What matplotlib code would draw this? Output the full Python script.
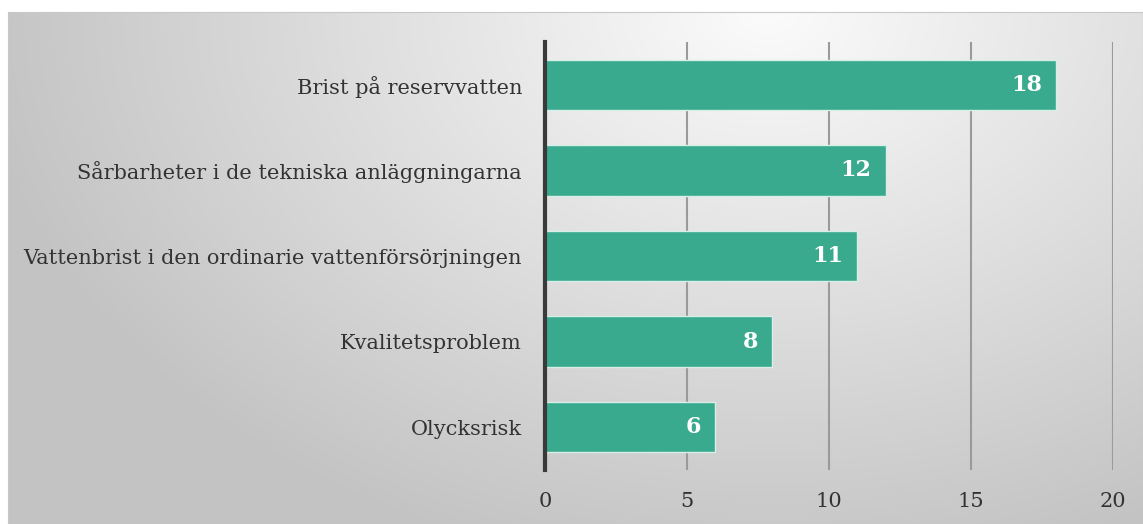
import numpy as np
import matplotlib
matplotlib.use("Agg")
import matplotlib.pyplot as plt

categories = ["Brist på reservvatten",
              "Sårbarheter i de tekniska anläggningarna",
              "Vattenbrist i den ordinarie vattenförsörjningen",
              "Kvalitetsproblem",
              "Olycksrisk"]
values = [18, 12, 11, 8, 6]
xticks = [0, 5, 10, 15, 20]

W, H = 1143, 524
fig = plt.figure(figsize=(W / 100, H / 100), dpi=100)
fig.patch.set_facecolor("white")

# background gradient panel
bg = fig.add_axes([8 / W, 0, 1 - 8 / W, 1 - 12 / H])
yy, xx = np.mgrid[0:512, 0:1135]
cx, cy = 760, 0
d = np.sqrt(((xx - cx) / 1.0) ** 2 + ((yy - cy) * 1.4) ** 2)
d = np.clip(d / 800, 0, 1)
g = 0.985 - 0.22 * d
img = np.dstack([g, g, g])
bg.imshow(img, aspect="auto", extent=[0, 1, 0, 1], origin="upper")
bg.set_xlim(0, 1); bg.set_ylim(0, 1)
for s in bg.spines.values():
    s.set_color("#c8c8c8")
bg.set_xticks([]); bg.set_yticks([])

ax = fig.add_axes([545 / W, 1 - 470 / H, (1113 - 545) / W, (470 - 42) / H])
ax.patch.set_alpha(0)
y = np.arange(len(categories))
ax.barh(y, values, height=0.59, color="#3aaa8f", edgecolor="#d8efe8", linewidth=1, zorder=3)
ax.set_ylim(len(categories) - 0.5, -0.5)
ax.set_xlim(0, 20)
ax.set_xticks(xticks)
ax.set_yticks(y)
ax.set_yticklabels(categories, fontsize=15, family="DejaVu Serif", color="#333333")
ax.set_xticklabels([str(t) for t in xticks], fontsize=15, family="DejaVu Serif", color="#333333")
ax.tick_params(axis="both", length=0)
ax.tick_params(axis="y", pad=16.5)
ax.tick_params(axis="x", pad=16)
ax.grid(axis="x", color="#9a9a9a", linewidth=1.5, zorder=0)
for s in ["top", "right", "bottom"]:
    ax.spines[s].set_visible(False)
ax.spines["left"].set_color("#3a3a3a")
ax.spines["left"].set_linewidth(3)
ax.spines["left"].set_zorder(5)
for yi, v in zip(y, values):
    ax.text(v - 0.5, yi, str(v), ha="right", va="center", color="white",
            fontsize=16, fontweight="bold", family="DejaVu Serif", zorder=4)

fig.savefig("out.png", dpi=100)
